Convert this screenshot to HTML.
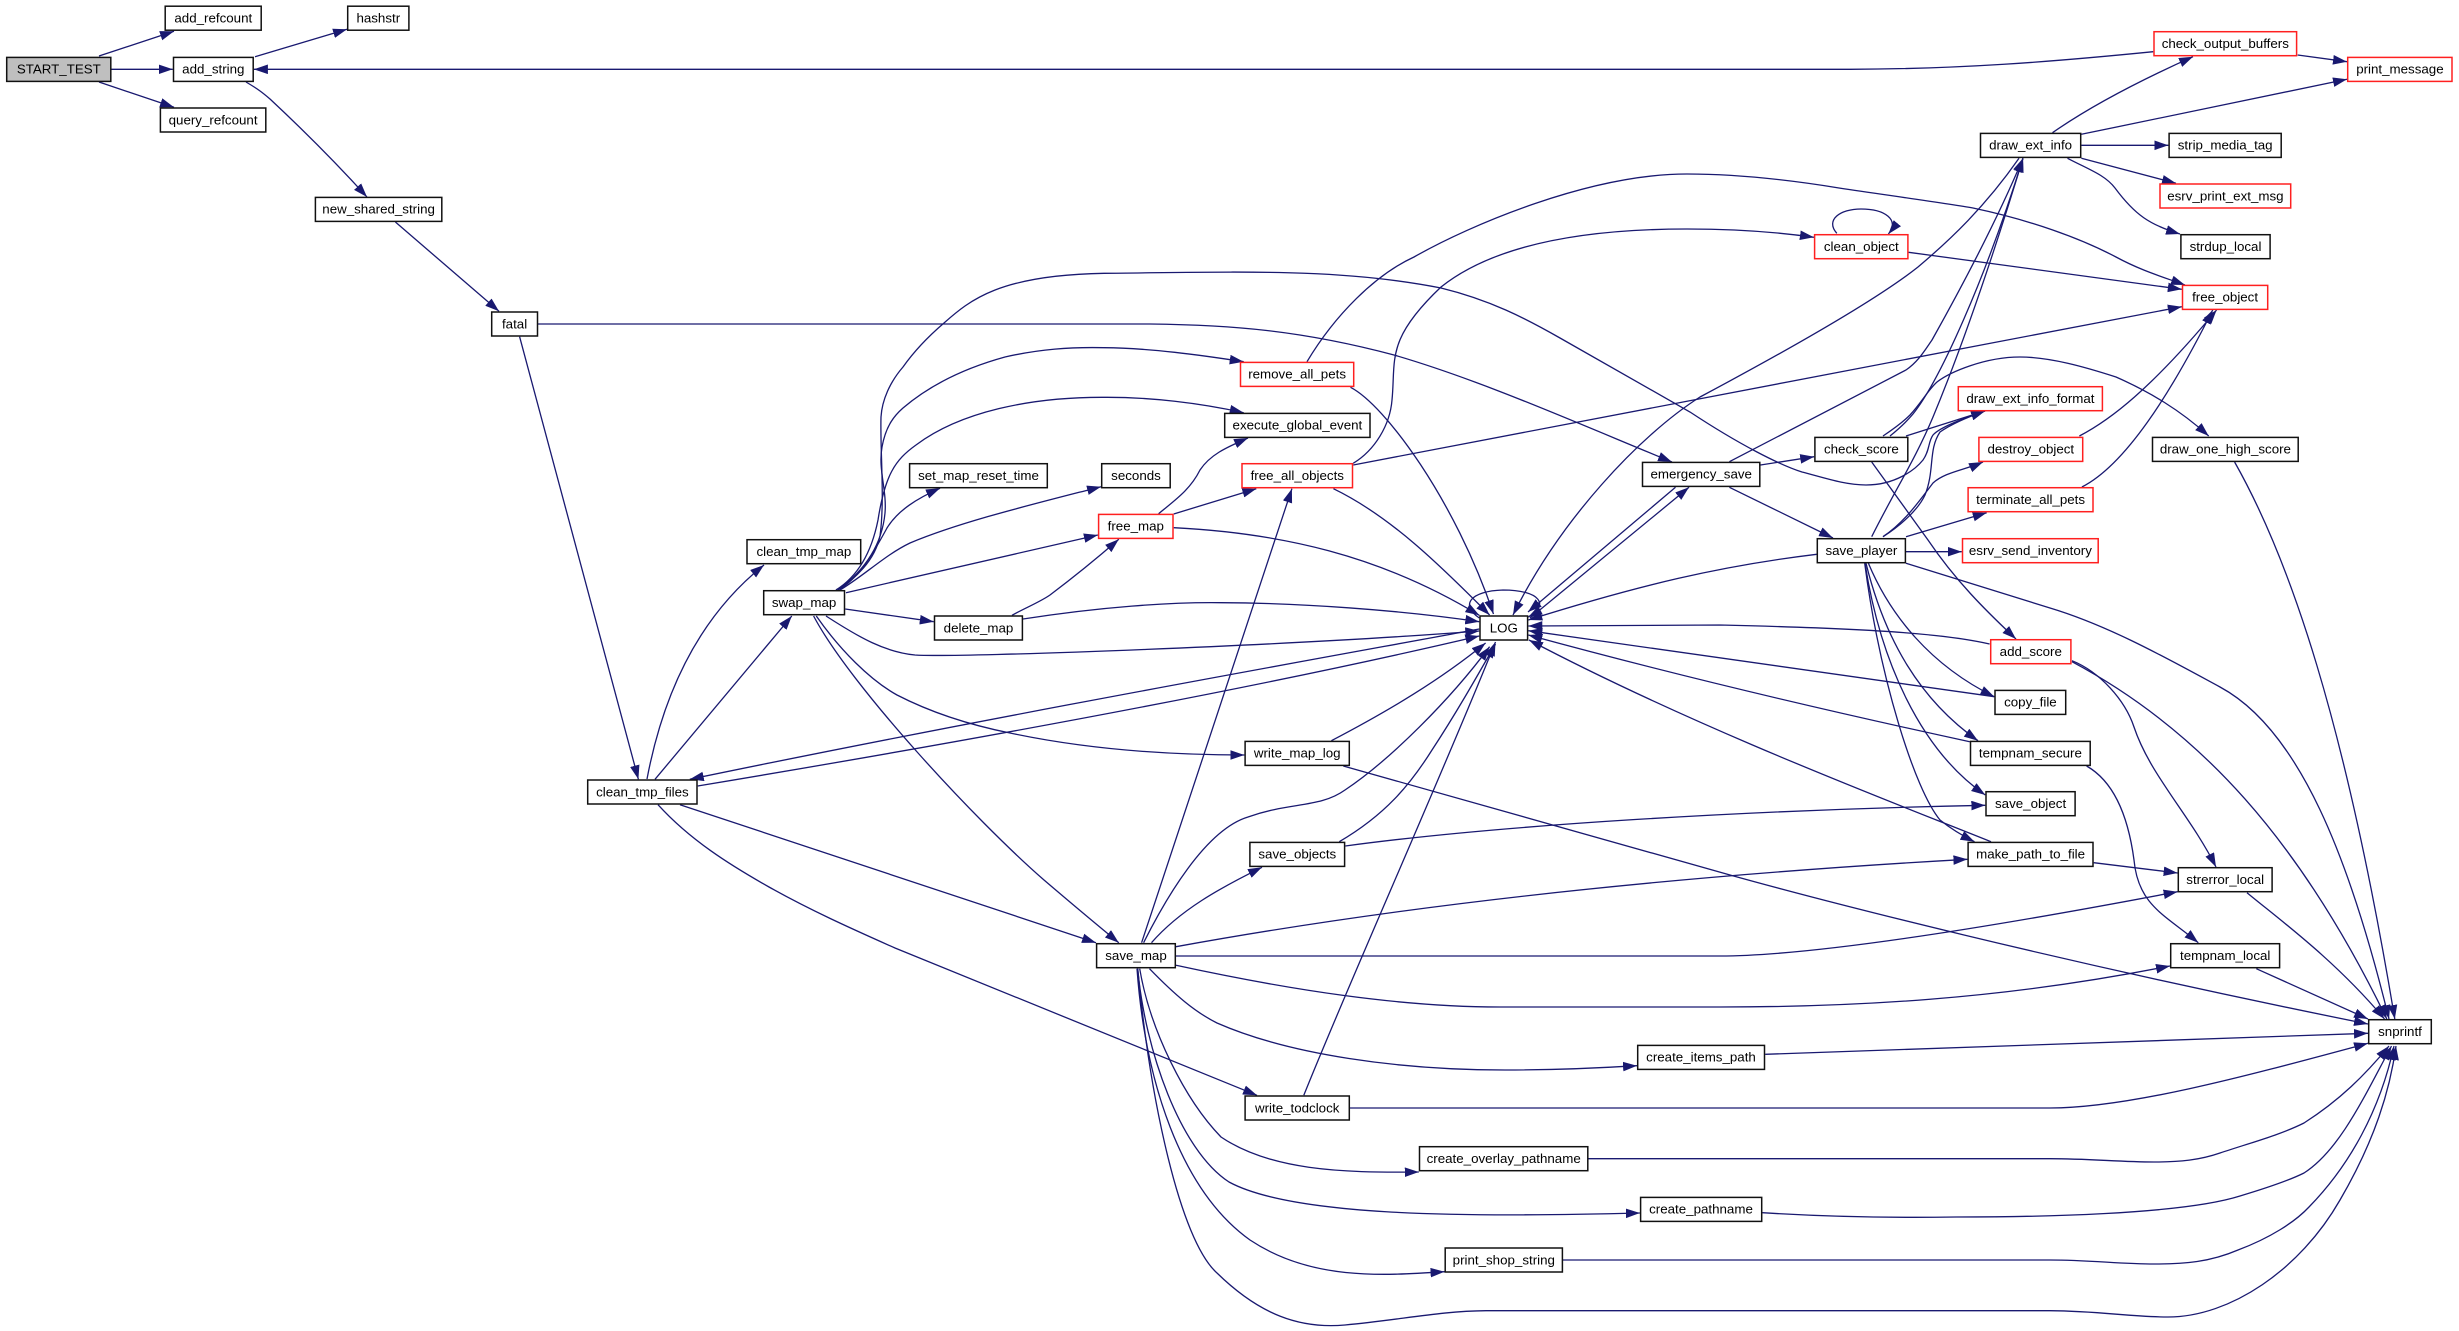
<!DOCTYPE html>
<html><head><meta charset="utf-8"><title>START_TEST call graph</title>
<style>
html,body{margin:0;padding:0;background:#fff}
svg{display:block;position:absolute;left:0;top:0}
.e path{fill:none;stroke:#191970;stroke-width:1.3;marker-end:url(#a)}
rect{fill:#fff;stroke:#111;stroke-width:1.5}
rect.r{stroke:#ff2020}
rect.g{fill:#bfbfbf}
text{font-family:"Liberation Sans",sans-serif;font-size:13.33px;text-anchor:middle;fill:#000}
</style></head><body>
<svg width="2459" height="1331" viewBox="0 0 2459 1331" xmlns="http://www.w3.org/2000/svg">
<defs><marker id="a" markerUnits="userSpaceOnUse" markerWidth="15" markerHeight="10" refX="14" refY="4.8" orient="auto"><path d="M0,0 L14,4.8 L0,9.6 z" fill="#191970"/></marker></defs>
<g class="e">
<path d="M99 56 L174 31.3"/>
<path d="M111.5 69.3 H172.8"/>
<path d="M99 82 L174 107.3"/>
<path d="M255 56.7 L347 29.3"/>
<path d="M246 82 C258 89 263 93 270 99 C300 127 338 165 367 197"/>
<path d="M395.4 222 L499 311.3"/>
<path d="M538 324 H1150 C1230 325 1300 330 1394 355 C1480 380 1570 420 1672 462"/>
<path d="M519.6 336.7 L638.4 779.3"/>
<path d="M647 779 C662 700 695 620 764 565"/>
<path d="M655 779.3 L791.8 616"/>
<path d="M680 804.7 L1096 942.7"/>
<path d="M658 804.7 C690 840 730 865 769 887 C810 910 850 928 895 948 L1257 1095.3"/>
<path d="M1479.3 629 C1350 653 1000 715 689.8 779.3"/>
<path d="M697.7 786 C950 744 1250 690 1479.3 636"/>
<path d="M826 616 C860 638 885 652 915 655 C960 658 1300 645 1479.3 631"/>
<path d="M816.3 616 C840 650 870 680 897 695 C930 712 970 725 1010 733 C1090 750 1170 755 1244.4 755"/>
<path d="M813.6 616 C850 685 975 820 1044 880 Q1085 915 1118.8 942.7"/>
<path d="M1023 619 C1100 607 1170 602 1221 602.7 C1300 603 1400 610 1479.3 621.7"/>
<path d="M845.2 609 L933.8 621.7"/>
<path d="M1012 615.3 C1025 608 1040 602 1050 595 C1070 580 1095 560 1118.8 539.3"/>
<path d="M846 592.7 L1097.9 535"/>
<path d="M840 590 C865 575 885 555 910 543 C960 522 1030 505 1101 486.7"/>
<path d="M838 590 C860 578 875 550 887 528 C898 510 918 498 940 488.3"/>
<path d="M836 590 C852 580 870 560 878 520 C885 475 895 460 916 445 C960 412 1030 397 1104 397.3 C1150 397 1200 403 1243.7 412.7"/>
<path d="M838 590 C865 570 882 545 885 513 C887 490 878 470 882 447 C886 425 895 415 903 408 C930 385 965 368 1005 357 C1040 349 1070 347 1104 347.7 C1150 348 1200 355 1243.7 361.7"/>
<path d="M836 590 C855 580 875 560 880 536 C885 500 880 450 881 417 C882 400 890 382 903 367 C915 350 930 335 944 323 C970 300 1000 275 1104 273.3 C1240 272 1340 268 1441 288 C1490 300 1525 318 1560 338 L1690 412 C1740 445 1780 465 1802 472 C1825 478 1845 485 1866 485 C1895 485 1915 470 1923 460 C1930 450 1928 442 1933 435 C1940 427 1965 418 1985 411"/>
<path d="M1883 536.7 C1900 526 1918 510 1925 495 C1935 470 1928 450 1940 432 C1950 425 1965 418 1985 411"/>
<path d="M1906 436 L1985 411"/>
<path d="M1883 436 C1895 428 1903 422 1910 415 C1922 402 1928 390 1937 382 C1950 372 1985 357 2020 357 C2050 357 2085 367 2116 377 C2150 392 2180 410 2208.7 436"/>
<path d="M1890 436 C1900 428 1908 420 1913 414 C1940 380 1985 280 2023 158.3"/>
<path d="M1871.7 536.7 C1895 490 1915 460 1933 417 C1965 340 1995 250 2023 158.3"/>
<path d="M1729.4 461.7 L1906 370 C1918 362 1925 350 1932 340 C1960 290 1995 225 2023 158.3"/>
<path d="M2019 158.3 C1985 207 1950 240 1918 267 C1870 305 1760 365 1700 397 C1640 435 1560 520 1513 615"/>
<path d="M1333.4 488.7 C1390 516 1440 565 1489.6 615"/>
<path d="M1350.5 387.3 C1385 405 1455 500 1493.5 614"/>
<path d="M1675.5 487.3 L1528 612"/>
<path d="M1530 618 L1689 487.3"/>
<path d="M1816.6 554.3 C1720 566 1640 585 1528.3 620"/>
<path d="M1989.6 644 C1950 635 1890 629 1720 625 L1528.3 626"/>
<path d="M1994.3 696.7 L1528.3 630.7"/>
<path d="M1969.8 741.7 Q1730 690 1528.3 635"/>
<path d="M1991 841.7 C1900 805 1700 730 1529 640"/>
<path d="M1173.7 527.7 C1280 533 1380 555 1479.3 615.3"/>
<path d="M1331.4 740.7 C1390 710 1440 680 1485.6 643"/>
<path d="M1143.6 942.7 C1165 900 1205 830 1248 817 C1290 802 1320 808 1345 790 C1390 760 1450 700 1489.6 646.7"/>
<path d="M1339.3 841.7 C1385 815 1410 785 1432 750 C1455 715 1475 680 1495.5 644"/>
<path d="M1303.8 1095.3 C1350 980 1440 780 1495.5 642"/>
<path d="M1479.3 618 C1460 605 1470 591 1503 590 C1540 590 1550 605 1528.3 617"/>
<path d="M1141.6 942.7 L1291.9 488.7"/>
<path d="M1151.5 942.7 C1180 910 1220 888 1262 867.3"/>
<path d="M1345.3 846 C1500 825 1750 810 1985.3 805.3"/>
<path d="M1343.3 766 L1730 875 C1820 900 2050 960 2368 1024"/>
<path d="M1176 946.7 C1350 915 1600 880 1967.4 859.3"/>
<path d="M1176 956 H1720 C1800 956 1950 935 2177.6 891.7"/>
<path d="M1176 965.3 C1290 990 1400 1007 1500 1007 H1720 C1850 1007 2000 1000 2170 966"/>
<path d="M1149.5 968.7 C1175 995 1195 1012 1217 1023 C1290 1055 1400 1070 1505 1070 C1550 1070 1600 1068 1637 1065.7"/>
<path d="M1139.7 968.7 C1150 1030 1185 1100 1221 1137 C1270 1170 1340 1173 1418.8 1172"/>
<path d="M1137.7 968.7 C1145 1050 1180 1150 1229 1182 C1290 1215 1450 1218 1639.9 1213"/>
<path d="M1137 968.7 C1145 1080 1180 1190 1250 1240 C1310 1280 1380 1276 1444.5 1271.7"/>
<path d="M1137.7 968.7 C1150 1100 1180 1240 1217 1273 C1260 1315 1300 1329 1345 1325 C1400 1320 1440 1311 1486 1310.7 H2050 C2100 1311 2130 1317 2168 1317 C2230 1317 2300 1270 2340 1200 C2375 1140 2390 1090 2396 1046"/>
<path d="M1563 1260 H2050 C2090 1260 2120 1264 2154 1264 C2185 1264 2210 1262 2238 1250 C2270 1238 2295 1222 2309 1207 C2350 1165 2380 1110 2394 1046"/>
<path d="M1762.4 1212.7 C1830 1217 1890 1218 1956 1217 C2030 1217 2180 1215 2240 1196 C2270 1187 2290 1180 2304 1173 C2340 1150 2365 1095 2391.5 1046"/>
<path d="M1588.5 1158.7 H2050 C2090 1158.7 2120 1162 2154 1162 C2180 1162 2200 1160 2220 1153 C2250 1143 2280 1135 2304 1123 C2340 1100 2365 1075 2389 1046"/>
<path d="M1350 1108 H2050 C2130 1108 2250 1075 2368 1043.3"/>
<path d="M1765.2 1054.3 L2368 1033.3"/>
<path d="M2256.3 968.7 L2368 1019"/>
<path d="M2247 892.7 C2280 920 2335 960 2384.5 1019"/>
<path d="M2072 661.7 C2200 730 2300 840 2386.8 1019"/>
<path d="M1906 563.3 L2050 608 C2110 626 2170 660 2220 687 C2300 730 2350 860 2389 1019"/>
<path d="M2234.6 462 C2290 560 2345 720 2394.8 1019"/>
<path d="M1871.7 462 L1928 540 C1955 580 1985 610 2016 639"/>
<path d="M2072 660.7 C2100 672 2125 700 2134 727 C2150 775 2190 815 2216 867"/>
<path d="M2086.6 766 C2120 785 2130 830 2134 860 C2138 905 2165 915 2198.3 942.7"/>
<path d="M2093.7 862.7 L2177.6 873"/>
<path d="M1868.4 563.3 C1890 615 1930 665 1994.3 696.7"/>
<path d="M1866 563.3 C1885 640 1920 700 1978 740.7"/>
<path d="M1865 563.3 C1880 660 1920 750 1985.3 795"/>
<path d="M1864.7 563.3 C1880 680 1915 790 1940 820 Q1955 832 1974.5 841.7"/>
<path d="M1883 536.7 C1905 522 1920 500 1933 483 C1945 472 1965 470 1983 462"/>
<path d="M1906 536.7 L1986.7 512.7"/>
<path d="M1906 551.7 H1961.8"/>
<path d="M1729.4 487.3 L1833 538"/>
<path d="M1760.5 465 L1814.2 456.7"/>
<path d="M2079.4 436 C2110 420 2150 390 2216.6 310"/>
<path d="M2081.9 487 C2125 465 2170 395 2212.7 310"/>
<path d="M1353.2 465 L2181.8 306.7"/>
<path d="M1353.2 463.3 C1375 450 1390 425 1392 400 C1396 360 1385 340 1441 287 C1500 240 1600 229 1687 229 C1730 229 1770 231 1813.9 237.3"/>
<path d="M1836.8 233.3 C1825 220 1840 209 1861 209 C1885 209 1900 220 1888.4 234"/>
<path d="M1908.6 252.3 L2181.8 289.3"/>
<path d="M1307 361.7 C1335 315 1375 275 1414 257 C1470 225 1590 174 1687 174 C1740 174 1790 180 1839 188 C1900 197 1950 204 1973 208 C2030 220 2080 238 2116 257 C2140 270 2160 276 2185 285"/>
<path d="M1158.6 513.7 C1175 500 1190 490 1200 470 C1210 455 1225 448 1248 438"/>
<path d="M1173.7 514 L1256.3 488.7"/>
<path d="M2052.5 132.7 C2085 110 2130 85 2193 56.7"/>
<path d="M2081.4 134.3 L2347 79.3"/>
<path d="M2081.4 145.3 H2168.4"/>
<path d="M2081.4 158.3 L2176 183.3"/>
<path d="M2067.5 158.3 C2090 170 2105 175 2115 188 C2135 215 2150 225 2180 234"/>
<path d="M2297.7 55 L2347 61.7"/>
<path d="M2153.3 51.7 C2050 62 1960 69 1850 69.3 H253.9"/>
</g>
<g>
<rect x="165.2" y="6.2" width="96" height="24"/><text x="213.3" y="22.5">add_refcount</text>
<rect x="347.7" y="6.2" width="61.2" height="24"/><text x="378.3" y="22.5">hashstr</text>
<rect class="g" x="6.7" y="57.4" width="104.1" height="24"/><text x="58.8" y="73.7">START_TEST</text>
<rect x="173.5" y="57.4" width="79.7" height="24"/><text x="213.3" y="73.7">add_string</text>
<rect x="160.4" y="108" width="105.4" height="24"/><text x="213.1" y="124.3">query_refcount</text>
<rect x="315.4" y="197.4" width="126.4" height="24"/><text x="378.6" y="213.7">new_shared_string</text>
<rect x="491.7" y="312" width="45.8" height="24"/><text x="514.6" y="328.3">fatal</text>
<rect class="r" x="2154" y="31.7" width="142.6" height="24"/><text x="2225.3" y="48">check_output_buffers</text>
<rect class="r" x="2347.7" y="57.4" width="104.3" height="24"/><text x="2399.9" y="73.7">print_message</text>
<rect x="1980.5" y="133.4" width="100.2" height="24"/><text x="2030.6" y="149.7">draw_ext_info</text>
<rect x="2169.1" y="133.4" width="112.1" height="24"/><text x="2225.2" y="149.7">strip_media_tag</text>
<rect class="r" x="2160" y="184" width="130.7" height="24"/><text x="2225.4" y="200.3">esrv_print_ext_msg</text>
<rect x="2180.9" y="234.7" width="89.2" height="24"/><text x="2225.5" y="251">strdup_local</text>
<rect class="r" x="1814.6" y="234.7" width="93.3" height="24"/><text x="1861.3" y="251">clean_object</text>
<rect class="r" x="2182.5" y="285.4" width="85.2" height="24"/><text x="2225.1" y="301.7">free_object</text>
<rect class="r" x="1240.5" y="362.4" width="113.2" height="24"/><text x="1297.1" y="378.7">remove_all_pets</text>
<rect class="r" x="1958.3" y="386.7" width="144.1" height="24"/><text x="2030.4" y="403">draw_ext_info_format</text>
<rect x="1224.7" y="413.4" width="145.3" height="24"/><text x="1297.4" y="429.7">execute_global_event</text>
<rect x="1814.9" y="437.4" width="92.9" height="24"/><text x="1861.4" y="453.7">check_score</text>
<rect class="r" x="1978.9" y="437.4" width="103.8" height="24"/><text x="2030.8" y="453.7">destroy_object</text>
<rect x="2152.5" y="437.4" width="145.7" height="24"/><text x="2225.4" y="453.7">draw_one_high_score</text>
<rect x="909.6" y="463.7" width="137.7" height="24"/><text x="978.5" y="480">set_map_reset_time</text>
<rect x="1101.7" y="463.7" width="68.5" height="24"/><text x="1136" y="480">seconds</text>
<rect class="r" x="1242" y="463.7" width="110.5" height="24"/><text x="1297.3" y="480">free_all_objects</text>
<rect x="1642.5" y="462.4" width="117.3" height="24"/><text x="1701.2" y="478.7">emergency_save</text>
<rect class="r" x="1968.1" y="487.7" width="124.9" height="24"/><text x="2030.6" y="504">terminate_all_pets</text>
<rect class="r" x="1098.6" y="514.4" width="74.4" height="24"/><text x="1135.8" y="530.7">free_map</text>
<rect x="1817.3" y="538.7" width="88.1" height="24"/><text x="1861.4" y="555">save_player</text>
<rect class="r" x="1962.5" y="538.7" width="135.7" height="24"/><text x="2030.4" y="555">esrv_send_inventory</text>
<rect x="747" y="539.7" width="113.7" height="24"/><text x="803.9" y="556">clean_tmp_map</text>
<rect x="763.7" y="590.7" width="80.8" height="24"/><text x="804.1" y="607">swap_map</text>
<rect x="934.5" y="616" width="87.9" height="24"/><text x="978.5" y="632.3">delete_map</text>
<rect x="1480" y="616" width="47.6" height="24"/><text x="1503.8" y="632.3">LOG</text>
<rect class="r" x="1990.7" y="639.7" width="80.2" height="24"/><text x="2030.8" y="656">add_score</text>
<rect x="1995" y="690.4" width="70.7" height="24"/><text x="2030.4" y="706.7">copy_file</text>
<rect x="1245.1" y="741.4" width="104.2" height="24"/><text x="1297.2" y="757.7">write_map_log</text>
<rect x="1970.5" y="741.4" width="119.7" height="24"/><text x="2030.4" y="757.7">tempnam_secure</text>
<rect x="587.7" y="780" width="109.3" height="24"/><text x="642.4" y="796.3">clean_tmp_files</text>
<rect x="1986" y="791.7" width="89.1" height="24"/><text x="2030.6" y="808">save_object</text>
<rect x="1249.9" y="842.4" width="94.7" height="24"/><text x="1297.3" y="858.7">save_objects</text>
<rect x="1968.1" y="842.4" width="124.9" height="24"/><text x="2030.6" y="858.7">make_path_to_file</text>
<rect x="2178.3" y="867.7" width="93.8" height="24"/><text x="2225.2" y="884">strerror_local</text>
<rect x="1096.6" y="943.7" width="78.7" height="24"/><text x="1136" y="960">save_map</text>
<rect x="2170.7" y="943.7" width="108.9" height="24"/><text x="2225.2" y="960">tempnam_local</text>
<rect x="2368.7" y="1019.7" width="62.6" height="24"/><text x="2400" y="1036">snprintf</text>
<rect x="1637.7" y="1045.4" width="126.8" height="24"/><text x="1701" y="1061.7">create_items_path</text>
<rect x="1245.1" y="1096" width="104.2" height="24"/><text x="1297.2" y="1112.3">write_todclock</text>
<rect x="1419.5" y="1146.7" width="168.3" height="24"/><text x="1503.7" y="1163">create_overlay_pathname</text>
<rect x="1640.6" y="1197.4" width="121.1" height="24"/><text x="1701" y="1213.7">create_pathname</text>
<rect x="1445.2" y="1248" width="117.2" height="24"/><text x="1503.8" y="1264.3">print_shop_string</text>
</g>
</svg>
</body></html>
